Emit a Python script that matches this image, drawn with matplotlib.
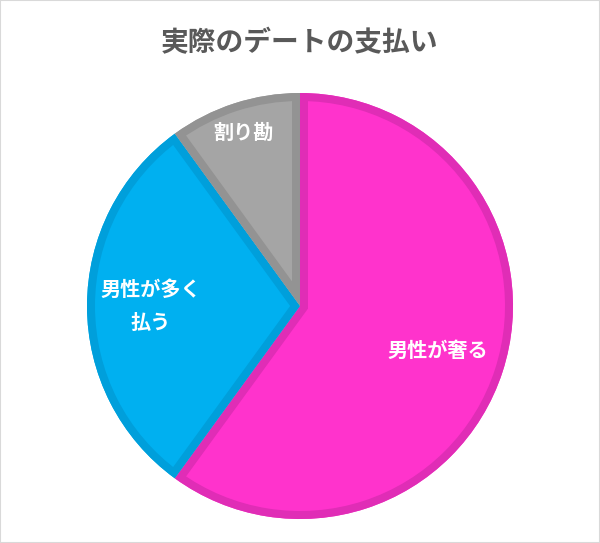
import matplotlib
matplotlib.use("Agg")
import matplotlib.pyplot as plt
from matplotlib.patches import Wedge, Rectangle
import numpy as np

plt.rcParams['font.family'] = ['Noto Sans CJK JP', 'DejaVu Sans']

########## DATA ##########
title = "実際のデートの支払い"
labels = ["男性が奢る", "男性が多く\n払う", "割り勘"]
values = [60, 30, 10]
fill_colors = ["#FF33CC", "#00B0F0", "#A5A5A5"]
edge_colors = ["#E02DB6", "#009FDB", "#939393"]
label_dist = [0.68, 0.70, 0.855]

W, H = 600, 543
fig = plt.figure(figsize=(W / 100, H / 100), dpi=100)
ax = fig.add_axes([0, 0, 1, 1])

cx, cy, rad = 300, H - 306, 213
wedges, _ = ax.pie(values, colors=fill_colors, startangle=90, counterclock=False,
                   center=(cx, cy), radius=rad, wedgeprops=dict(linewidth=0))

# inner border on each slice: wide stroke clipped to the slice itself
border_px = 8
for w, ec in zip(wedges, edge_colors):
    b = Wedge(w.center, w.r, w.theta1, w.theta2, facecolor="none", edgecolor=ec,
              linewidth=2 * border_px * 0.72, joinstyle="miter")
    ax.add_patch(b)
    b.set_clip_path(w)

for w, lab, d in zip(wedges, labels, label_dist):
    mid = np.radians((w.theta1 + w.theta2) / 2)
    x = cx + rad * d * np.cos(mid)
    y = cy + rad * d * np.sin(mid)
    ax.text(x, y, lab, ha="center", va="center", color="white", fontsize=14.5,
            fontweight="bold", linespacing=1.7)

ax.set_xlim(0, W)
ax.set_ylim(0, H)
ax.set_aspect("equal")
ax.axis("off")

fig.text(0.5, 1 - 43 / H, title, ha="center", va="center", fontsize=20,
         fontweight="bold", color="#595959")

# light frame around the chart
fig.patches.append(Rectangle((0, 0), 1, 1, transform=fig.transFigure, fill=False,
                             edgecolor="#D9D9D9", linewidth=1.5))

fig.savefig("out.png", dpi=100)
